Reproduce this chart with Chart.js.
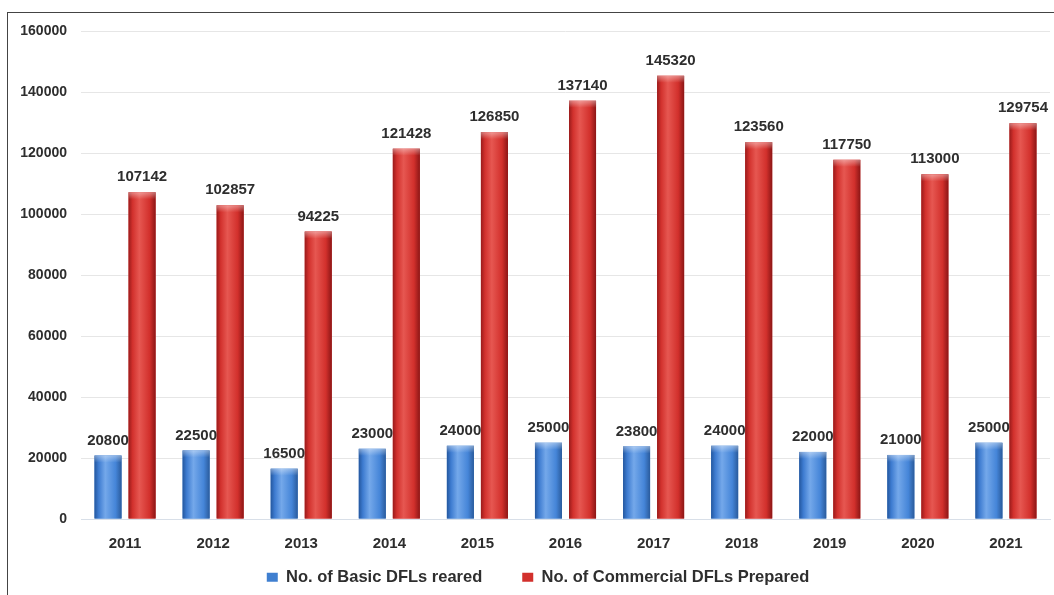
<!DOCTYPE html>
<html>
<head>
<meta charset="utf-8">
<script src="https://cdn.jsdelivr.net/npm/chart.js@4.4.1/dist/chart.umd.min.js"></script>
<style>
  html, body { margin: 0; padding: 0; background: #fff; }
  #wrap { position: relative; width: 1054px; height: 595px; overflow: hidden; }
  #frame { position: absolute; left: 7px; top: 12px; width: 1100px; height: 700px;
           border-top: 1px solid #444; border-left: 1px solid #444; }
  canvas { position: absolute; left: 0; top: 0; }
</style>
</head>
<body>
<div id="wrap">
  <div id="frame"></div>
  <canvas id="c" width="1054" height="595"></canvas>
</div>
<script>
const years = ["2011","2012","2013","2014","2015","2016","2017","2018","2019","2020","2021"];
const basicDFLs = [20800, 22500, 16500, 23000, 24000, 25000, 23800, 24000, 22000, 21000, 25000];
const commercialDFLs = [107142, 102857, 94225, 121428, 126850, 137140, 145320, 123560, 117750, 113000, 129754];
const seriesNames = ["No. of Basic DFLs reared", "No. of Commercial DFLs Prepared"];

const FONT = "'Liberation Sans', Arial, sans-serif";

const cylinderPlugin = {
  id: 'cylinder',
  afterLayout(chart) {
    const lg = chart.legend;
    if (lg) {
      lg.left += 13; lg.right += 13;
      lg.top -= 30; lg.height += 30;
    }
  },
  afterDatasetsDraw(chart) {
    const ctx = chart.ctx;
    const palettes = [
      ['#24579e', '#3d7bd0', '#74a8ea', '#4585d8', '#2a5b9c'],
      ['#9a1b1b', '#d2312d', '#e65751', '#d2302c', '#8c1616']
    ];
    chart.data.datasets.forEach((ds, di) => {
      const meta = chart.getDatasetMeta(di);
      const p = palettes[di];
      meta.data.forEach((bar) => {
        const w = bar.width, x0 = bar.x - w / 2, top = bar.y, base = bar.base;
        const g = ctx.createLinearGradient(x0, 0, x0 + w, 0);
        g.addColorStop(0, p[0]);
        g.addColorStop(0.15, p[1]);
        g.addColorStop(0.4, p[2]);
        g.addColorStop(0.78, p[3]);
        g.addColorStop(1, p[4]);
        ctx.save();
        ctx.fillStyle = g;
        ctx.fillRect(x0, top, w, base - top);
        const cg = ctx.createLinearGradient(0, top, 0, top + 7);
        cg.addColorStop(0, 'rgba(255,255,255,0.40)');
        cg.addColorStop(1, 'rgba(255,255,255,0)');
        ctx.fillStyle = cg;
        ctx.fillRect(x0, top, w, 7);
        ctx.restore();
      });
    });
    ctx.save();
    ctx.font = "bold 15px " + FONT;
    ctx.fillStyle = '#2e2e2e';
    ctx.textAlign = 'center';
    ctx.textBaseline = 'middle';
    chart.data.datasets.forEach((ds, di) => {
      const meta = chart.getDatasetMeta(di);
      meta.data.forEach((bar, i) => {
        ctx.fillText(String(ds.data[i]), bar.x, bar.y - 15);
      });
    });
    ctx.restore();
  }
};

new Chart(document.getElementById('c'), {
  type: 'bar',
  data: {
    labels: years,
    datasets: [
      { label: seriesNames[0], data: basicDFLs, backgroundColor: '#3f7fd0',
        categoryPercentage: 0.773, barPercentage: 0.794 },
      { label: seriesNames[1], data: commercialDFLs, backgroundColor: '#d2302c',
        categoryPercentage: 0.773, barPercentage: 0.794 }
    ]
  },
  options: {
    responsive: false,
    animation: false,
    layout: { padding: { top: 31, right: 4, left: 0, bottom: 0 } },
    scales: {
      y: {
        min: 0, max: 160000,
        ticks: { stepSize: 20000, padding: 14, color: '#2e2e2e',
                 callback: (v) => String(v),
                 font: { family: FONT, size: 14, weight: 'bold' } },
        grid: { color: '#e6e6e6', drawTicks: false, lineWidth: 1 },
        border: { display: false },
        afterFit(scale) { scale.width = 81; }
      },
      x: {
        ticks: { padding: 16, color: '#2e2e2e',
                 font: { family: FONT, size: 15, weight: 'bold' } },
        grid: { display: false, drawTicks: false },
        border: { display: true, color: '#d8dfe8' },
        afterFit(scale) { scale.height = 40; }
      }
    },
    plugins: {
      legend: {
        position: 'bottom',
        maxHeight: 36,
        labels: { boxWidth: 11, boxHeight: 9, padding: 40, color: '#2e2e2e',
                  font: { family: FONT, size: 16.5, weight: 'bold' } }
      },
      tooltip: { enabled: false }
    }
  },
  plugins: [cylinderPlugin]
});
</script>
</body>
</html>
